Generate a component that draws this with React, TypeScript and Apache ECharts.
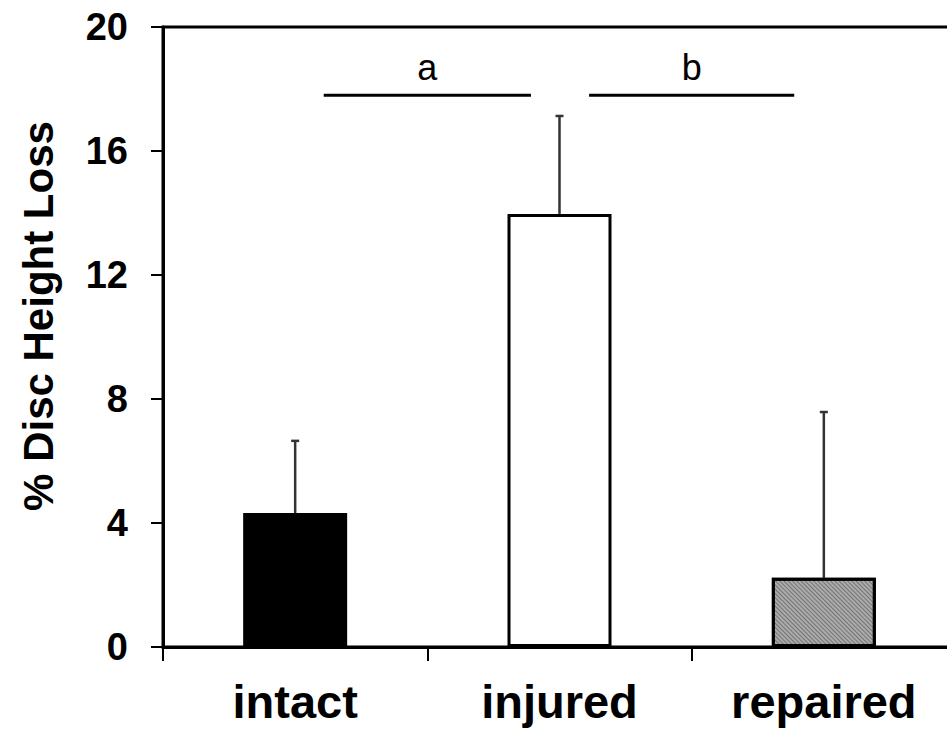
import React, { useEffect, useRef } from 'react';
import * as echarts from 'echarts';

const categories = ['intact', 'injured', 'repaired'];
const means = [4.32, 13.97, 2.23];
const sdUpper = [2.33, 3.16, 5.35];
const barColors = ['#000000', '#ffffff', '#ababab'];
const yMin = 0;
const yMax = 20;
const yInterval = 4;
const sigLabels = ['a', 'b'];
const sigFrom = [0.108, 1.112];
const sigTo = [0.892, 1.888];
const sigLevel = [17.8, 17.8];

const FONT = '"Liberation Sans", Arial, sans-serif';

export default function App() {
  const ref = useRef<HTMLDivElement>(null);
  useEffect(() => {
    if (!ref.current) return;
    const chart = echarts.init(ref.current, undefined, { renderer: 'svg' });
    const option: any = {
      animation: false,
      backgroundColor: '#ffffff',
      grid: {
        left: 163,
        right: 0,
        top: 27,
        bottom: 88,
        containLabel: false,
        show: true,
        borderColor: '#000',
        borderWidth: 3,
        backgroundColor: 'transparent',
      },
      xAxis: {
        type: 'category',
        data: categories,
        axisLine: { lineStyle: { color: '#000', width: 3 } },
        axisTick: { show: true, length: 14, lineStyle: { color: '#000', width: 2 } },
        axisLabel: {
          color: '#000',
          fontFamily: FONT,
          fontWeight: 'bold',
          fontSize: 47,
          margin: 31,
        },
        splitLine: { show: false },
      },
      yAxis: {
        type: 'value',
        min: yMin,
        max: yMax,
        interval: yInterval,
        name: '% Disc Height Loss',
        nameLocation: 'middle',
        nameGap: 104,
        nameTextStyle: {
          color: '#000',
          fontFamily: FONT,
          fontWeight: 'bold',
          fontSize: 42,
          padding: [0, 0, 0, 42],
        },
        axisLine: { show: true, lineStyle: { color: '#000', width: 3 } },
        axisTick: { show: true, length: 12, lineStyle: { color: '#000', width: 2 } },
        axisLabel: {
          color: '#000',
          fontFamily: FONT,
          fontWeight: 'bold',
          fontSize: 38,
          margin: 35,
        },
        splitLine: { show: false },
      },
      series: [
        {
          type: 'bar',
          barWidth: 104,
          z: 3,
          data: means.map((v, i) => ({
            value: v,
            itemStyle: {
              color: barColors[i],
              borderColor: '#000',
              borderWidth: 3,
              decal:
                i === 2
                  ? {
                      symbol: 'rect',
                      symbolSize: 1,
                      color: 'rgba(70,70,70,0.55)',
                      dashArrayX: [1, 0],
                      dashArrayY: [1, 2],
                      rotation: Math.PI / 4,
                    }
                  : undefined,
            },
          })),
        },
        {
          type: 'custom',
          z: 2,
          data: means.map((v, i) => [i, v, v + sdUpper[i]]),
          encode: { x: 0, y: [1, 2] },
          renderItem: (params: any, api: any) => {
            const p0 = api.coord([api.value(0), api.value(1)]);
            const p1 = api.coord([api.value(0), api.value(2)]);
            const style = { stroke: '#333', lineWidth: 2.5 };
            return {
              type: 'group',
              children: [
                { type: 'line', shape: { x1: p0[0], y1: p0[1], x2: p1[0], y2: p1[1] }, style },
                { type: 'line', shape: { x1: p1[0] - 4, y1: p1[1], x2: p1[0] + 4, y2: p1[1] }, style },
              ],
            };
          },
        },
        {
          type: 'custom',
          z: 4,
          data: sigLevel.map((lv, i) => [0, lv, i]),
          encode: { x: 0, y: 1 },
          renderItem: (params: any, api: any) => {
            const i = params.dataIndex;
            const base = api.coord([0, api.value(1)]);
            const band = api.size([1, 0])[0];
            const x1 = base[0] + sigFrom[i] * band;
            const x2 = base[0] + sigTo[i] * band;
            return {
              type: 'group',
              children: [
                {
                  type: 'line',
                  shape: { x1, y1: base[1], x2, y2: base[1] },
                  style: { stroke: '#000', lineWidth: 3 },
                },
                {
                  type: 'text',
                  x: (x1 + x2) / 2,
                  y: base[1] - 10,
                  style: {
                    text: sigLabels[i],
                    fill: '#000',
                    font: `36px ${FONT}`,
                    textAlign: 'center',
                    textVerticalAlign: 'bottom',
                  },
                },
              ],
            };
          },
        },
      ],
    };
    chart.setOption(option);
    return () => chart.dispose();
  }, []);
  return (
    <div style={{ width: 947, height: 735, position: 'absolute', left: 0, top: 0, overflow: 'hidden', background: '#fff' }}>
      <div ref={ref} style={{ width: 956, height: 735 }} />
    </div>
  );
}
